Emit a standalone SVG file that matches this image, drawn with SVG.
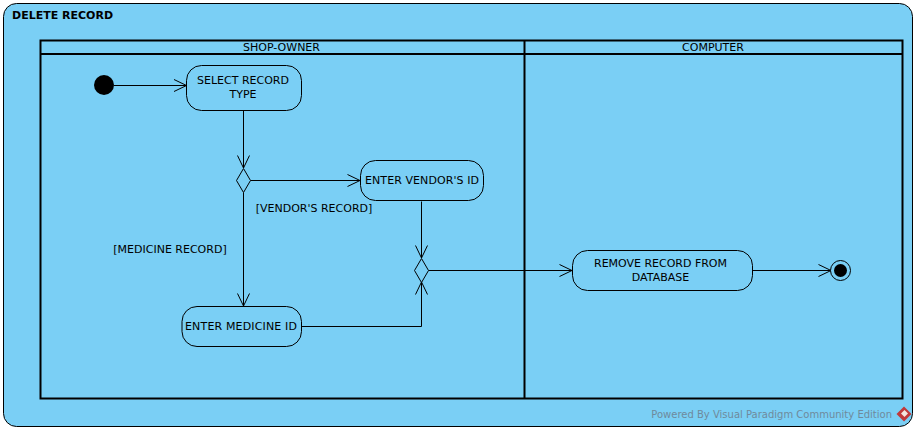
<svg xmlns="http://www.w3.org/2000/svg" width="916" height="431" viewBox="0 0 916 431">
<defs>
<marker id="arr" markerUnits="userSpaceOnUse" markerWidth="16" markerHeight="16" refX="12.500" refY="6" orient="auto" overflow="visible"><path d="M0 0L12.500 6L0 12" fill="none" stroke="#000" stroke-width="1"/></marker>
</defs>
<style>
text{font-family:"DejaVu Sans",sans-serif;font-size:11px;fill:#000;text-anchor:middle}
.n{fill:#7ACFF5;stroke:#000;stroke-width:1}
.c{fill:none;stroke:#000;stroke-width:1;marker-end:url(#arr)}
.s{fill:none;stroke:#000;stroke-width:2}
</style>
<rect width="916" height="431" fill="#fff"/>
<g id="frame">
<rect x="3.500" y="3.500" width="909" height="423" rx="13" fill="#7ACFF5" stroke="#000" stroke-width="1"/>
<text x="12" y="19" style="font-weight:bold;text-anchor:start">DELETE RECORD</text>
</g>
<g id="swimlanes">
<rect class="s" x="40.500" y="40.500" width="862" height="358"/>
<path class="s" d="M40.500 54H902.500M524.500 40.500V398.500"/>
<text x="281.500" y="51">SHOP-OWNER</text>
<text x="713" y="51">COMPUTER</text>
</g>
<g id="connectors">
<path class="c" d="M114 85.500H186.500"/>
<path class="c" d="M243.500 110.500V168"/>
<path class="c" d="M250.500 180.500H360"/>
<path class="c" d="M243.500 192.500V306"/>
<path class="c" d="M421.500 201.500V258"/>
<path class="c" d="M302 326.500H421.500V282"/>
<path class="c" d="M428.500 270.500H572"/>
<path class="c" d="M752.500 270.500H831"/>
</g>
<g id="start"><circle cx="104" cy="85" r="10" fill="#000"/></g>
<g id="select-record-type">
<rect class="n" x="186.500" y="65.500" width="115" height="45" rx="15"/>
<text x="243" y="84">SELECT RECORD</text><text x="243" y="98">TYPE</text>
</g>
<g id="decision"><path class="n" d="M243.500 168.500L250.500 180.500L243.500 192.500L236.500 180.500Z"/></g>
<g id="enter-vendor-id">
<rect class="n" x="360.500" y="160.500" width="123" height="40" rx="15"/>
<text x="422" y="184" textLength="114" lengthAdjust="spacing">ENTER VENDOR'S ID</text>
</g>
<g id="merge"><path class="n" d="M421.500 258.500L428.500 270.500L421.500 282.500L414.500 270.500Z"/></g>
<g id="enter-medicine-id">
<rect class="n" x="182" y="306.500" width="119.500" height="40" rx="15"/>
<text x="241" y="330" textLength="112" lengthAdjust="spacing">ENTER MEDICINE ID</text>
</g>
<g id="remove-record">
<rect class="n" x="572.500" y="250.500" width="180" height="40" rx="15"/>
<text x="660.500" y="267" textLength="133" lengthAdjust="spacing">REMOVE RECORD FROM</text><text x="660.500" y="281">DATABASE</text>
</g>
<g id="end">
<circle class="n" cx="840.500" cy="270.500" r="10"/>
<circle cx="840.500" cy="270.500" r="6.500" fill="#000"/>
</g>
<g id="labels">
<text x="314" y="212">[VENDOR'S RECORD]</text>
<text x="170" y="253">[MEDICINE RECORD]</text>
</g>
<g id="watermark">
<text x="892" y="418" style="font-size:10px;text-anchor:end;fill:#6f8a9c">Powered By Visual Paradigm Community Edition</text>
<path d="M904 406.500L911.500 414L904 421.500L896.500 414Z" fill="#c0393b"/>
<path d="M904.500 410L908 413.500L904.500 417L901 413.500Z" fill="#f3e6e0"/>
</g>
</svg>
